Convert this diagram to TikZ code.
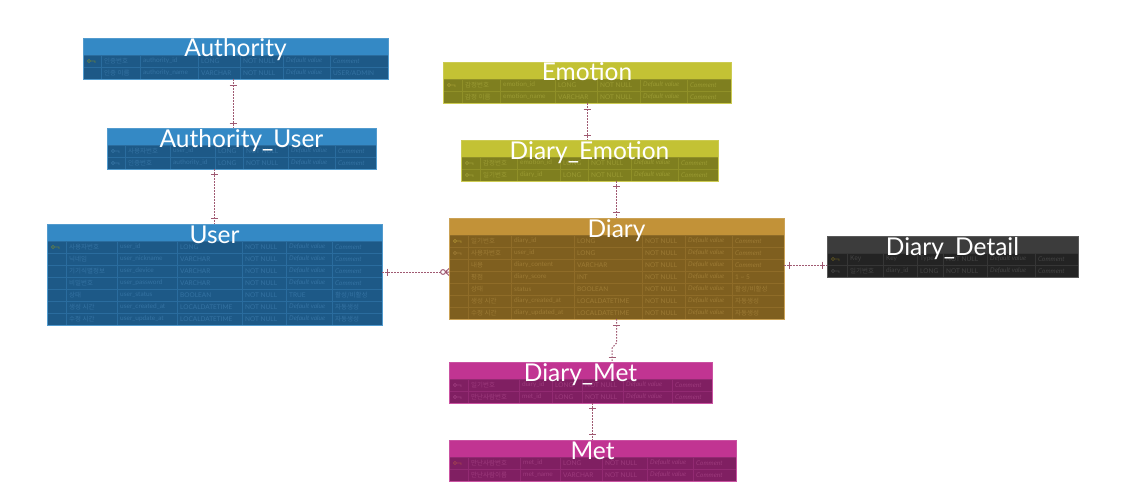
\documentclass[tikz,border=0pt]{standalone}
\usepackage{fontspec}
\setmainfont{Lato}
\newfontfamily\kr{Noto Sans CJK KR}
\usetikzlibrary{calc}
% themes
\definecolor{blueH}{HTML}{3489C5}\definecolor{blueB}{HTML}{1D5987}\definecolor{blueT}{HTML}{3472A2}\definecolor{blueL}{HTML}{2A6C9E}\definecolor{blueK}{HTML}{5C7A4A}
\definecolor{oliveH}{HTML}{C3C234}\definecolor{oliveB}{HTML}{7F7F1F}\definecolor{oliveT}{HTML}{9A9A33}\definecolor{oliveL}{HTML}{909028}\definecolor{oliveK}{HTML}{A09A30}
\definecolor{orangeH}{HTML}{C29238}\definecolor{orangeB}{HTML}{7F5F1F}\definecolor{orangeT}{HTML}{9C7A34}\definecolor{orangeL}{HTML}{8F6C28}\definecolor{orangeK}{HTML}{A88A30}
\definecolor{darkH}{HTML}{3C3C3C}\definecolor{darkB}{HTML}{232323}\definecolor{darkT}{HTML}{444444}\definecolor{darkL}{HTML}{363636}\definecolor{darkK}{HTML}{5A5020}
\definecolor{magH}{HTML}{C13492}\definecolor{magB}{HTML}{801F62}\definecolor{magT}{HTML}{9C3A7C}\definecolor{magL}{HTML}{922A72}\definecolor{magK}{HTML}{A04050}
\definecolor{connC}{HTML}{A05A72}
\newcommand\settheme[1]{\colorlet{tH}{#1H}\colorlet{tB}{#1B}\colorlet{tT}{#1T}\colorlet{tL}{#1L}\colorlet{tK}{#1K}}
\newcommand\dv{\textit{Default value}}
\newcommand\cm{\textit{Comment}}
\newcommand\ErdCols[8]{\def\ca{#1}\def\cb{#2}\def\cc{#3}\def\cd{#4}\def\ce{#5}\def\cf{#6}\def\cg{#7}\def\ch{#8}}
\newcommand\ErdTable[5]{% name, x1, y1, x2, nrows
  \pgfmathsetmacro\tbot{#3+17+12*#5}%
  \pgfmathsetmacro\tw{#4-#2}%
  \pgfmathsetmacro\thh{17+12*#5}%
  \fill[tB] (#2,#3) rectangle (#4,\tbot);
  \fill[tH] (#2,#3) rectangle (#4,#3+17);
  \node[tblnode, minimum width=\tw pt, minimum height=\thh pt, anchor=north west] (#1) at (#2,#3) {};
}
\newcommand\iconk[2]{\draw[tK, line width=0.8pt] (#1+6,#2+6) circle (1.6) (#1+7.6,#2+6) -- (#1+12,#2+6) -- (#1+12,#2+7.8);}
\newcommand\iconf[2]{\draw[tT, line width=0.8pt] (#1+6,#2+6) circle (1.6) (#1+7.6,#2+6) -- (#1+12,#2+6) -- (#1+12,#2+7.8);}
\newcommand\iconn[2]{}
\newcommand\ErdRow[8]{% ytop, icon, c2..c7
  \draw[tL, line width=0.7pt] (\ca,#1) rectangle (\ch,#1+12);
  \foreach \xx in {\cb,\cc,\cd,\ce,\cf,\cg} {\draw[tL, line width=0.7pt] (\xx,#1) -- (\xx,#1+12);}
  \csname icon#2\endcsname{\ca}{#1}
  \node[cell] at (\cb+3,#1+6) {\kr #3};
  \node[cell] at (\cc+3,#1+6) {#4};
  \node[cell] at (\cd+3,#1+6) {#5};
  \node[cell] at (\ce+3,#1+6) {#6};
  \node[cell] at (\cf+3,#1+6) {#7};
  \node[cell] at (\cg+3,#1+6) {#8};
}
\newcommand\ErdTitle[2]{%
  \draw[tH!85!white, line width=0.8pt] (#1.north west) rectangle (#1.south east);
  \node[ttl] at ($(#1.north)+(0,19)$) {#2};
}
\begin{document}
\begin{tikzpicture}[x=1pt, y=-1pt,
  tblnode/.style={inner sep=0pt, outer sep=0pt, draw=none},
  cell/.style={anchor=west, inner sep=0pt, text=tT, font=\fontsize{6.5}{7}\selectfont},
  ttl/.style={anchor=base, inner sep=0pt, text=white, font=\fontsize{24.5}{25}\selectfont},
  conn/.style={draw=connC, line width=1pt, dash pattern=on 1.5pt off 1.5pt},
  tick/.style={draw=connC, line width=1pt}]
\fill[white] (0,0) rectangle (1127,503);
\useasboundingbox (0,0) rectangle (1127,503);

% Authority
\settheme{blue}
\ErdTable{auth}{83}{38}{388}{2}
\ErdCols{83}{101}{140}{198}{240}{283}{330}{388}
\ErdRow{55}{k}{인증번호}{authority\_id}{LONG}{NOT NULL}{\dv}{\cm}
\ErdRow{67}{n}{인증 이름}{authority\_name}{VARCHAR}{NOT NULL}{\dv}{USER/ADMIN}
\ErdTitle{auth}{Authority}

% Authority_User
\ErdTable{auser}{107}{128}{376}{2}
\ErdCols{107}{125}{170}{215}{243}{288}{335}{376}
\ErdRow{145}{f}{사용자번호}{user\_id}{LONG}{NOT NULL}{\dv}{\cm}
\ErdRow{157}{f}{인증번호}{authority\_id}{LONG}{NOT NULL}{\dv}{\cm}
\ErdTitle{auser}{Authority\_User}

% User
\ErdTable{user}{47}{224}{382}{7}
\ErdCols{47}{66}{117}{177}{242}{286}{332}{382}
\ErdRow{241}{k}{사용자번호}{user\_id}{LONG}{NOT NULL}{\dv}{\cm}
\ErdRow{253}{n}{닉네임}{user\_nickname}{VARCHAR}{NOT NULL}{\dv}{\cm}
\ErdRow{265}{n}{기기식별정보}{user\_device}{VARCHAR}{NOT NULL}{\dv}{\cm}
\ErdRow{277}{n}{비밀번호}{user\_password}{VARCHAR}{NOT NULL}{\dv}{\cm}
\ErdRow{289}{n}{상태}{user\_status}{BOOLEAN}{NOT NULL}{TRUE}{\kr 활성/비활성}
\ErdRow{301}{n}{생성 시간}{user\_created\_at}{LOCALDATETIME}{NOT NULL}{\dv}{\kr 자동생성}
\ErdRow{313}{n}{수정 시간}{user\_update\_at}{LOCALDATETIME}{NOT NULL}{\dv}{\kr 자동생성}
\ErdTitle{user}{User}

% Emotion
\settheme{olive}
\ErdTable{emo}{443}{62}{731}{2}
\ErdCols{443}{462}{500}{555}{597}{640}{687}{731}
\ErdRow{79}{k}{감정번호}{emotion\_id}{LONG}{NOT NULL}{\dv}{\cm}
\ErdRow{91}{n}{감정 이름}{emotion\_name}{VARCHAR}{NOT NULL}{\dv}{\cm}
\ErdTitle{emo}{Emotion}

% Diary_Emotion
\ErdTable{demo}{461}{140}{718}{2}
\ErdCols{461}{480}{517}{560}{588}{631}{678}{718}
\ErdRow{157}{f}{감정번호}{emotion\_id}{LONG}{NOT NULL}{\dv}{\cm}
\ErdRow{169}{f}{일기번호}{diary\_id}{LONG}{NOT NULL}{\dv}{\cm}
\ErdTitle{demo}{Diary\_Emotion}

% Diary
\settheme{orange}
\ErdTable{diary}{449}{218}{784}{7}
\ErdCols{449}{468}{511}{574}{642}{685}{732}{784}
\ErdRow{235}{k}{일기번호}{diary\_id}{LONG}{NOT NULL}{\dv}{\cm}
\ErdRow{247}{f}{사용자번호}{user\_id}{LONG}{NOT NULL}{\dv}{\cm}
\ErdRow{259}{n}{내용}{diary\_content}{VARCHAR}{NOT NULL}{\dv}{\cm}
\ErdRow{271}{n}{평점}{diary\_score}{INT}{NOT NULL}{\dv}{1 \textasciitilde{} 5}
\ErdRow{283}{n}{상태}{status}{BOOLEAN}{NOT NULL}{\dv}{\kr 활성/비활성}
\ErdRow{295}{n}{생성 시간}{diary\_created\_at}{LOCALDATETIME}{NOT NULL}{\dv}{\kr 자동생성}
\ErdRow{307}{n}{수정 시간}{diary\_updated\_at}{LOCALDATETIME}{NOT NULL}{\dv}{\kr 자동생성}
\ErdTitle{diary}{Diary}

% Diary_Detail
\settheme{dark}
\ErdTable{ddet}{827}{236}{1078}{2}
\ErdCols{827}{847}{883}{917}{943}{987}{1035}{1078}
\ErdRow{253}{k}{Key}{Key}{Type}{NOT NULL}{\dv}{\cm}
\ErdRow{265}{f}{일기번호}{diary\_id}{LONG}{NOT NULL}{\dv}{\cm}
\ErdTitle{ddet}{Diary\_Detail}

% Diary_Met
\settheme{mag}
\ErdTable{dmet}{449}{362}{712}{2}
\ErdCols{449}{468}{519}{552}{582}{623}{672}{712}
\ErdRow{379}{f}{일기번호}{diary\_id}{LONG}{NOT NULL}{\dv}{\cm}
\ErdRow{391}{f}{만난사람번호}{met\_id}{LONG}{NOT NULL}{\dv}{\cm}
\ErdTitle{dmet}{Diary\_Met}

% Met
\ErdTable{met}{449}{440}{736}{2}
\ErdCols{449}{468}{520}{560}{602}{647}{693}{736}
\ErdRow{457}{k}{만난사람번호}{met\_id}{LONG}{NOT NULL}{\dv}{\cm}
\ErdRow{469}{n}{만난사람이름}{met\_name}{VARCHAR}{NOT NULL}{\dv}{\cm}
\ErdTitle{met}{Met}

% ---- connectors ----
% Authority -- Authority_User
\coordinate (a1) at ($(auth.south)+(-2.5,0)$);
\coordinate (a2) at (a1 |- auser.north);
\draw[conn] (a1) -- (a2);
\draw[tick] ($(a1)+(-3.5,6)$) -- ++(7,0);
\draw[tick] ($(a2)+(-3.5,-5)$) -- ++(7,0);
% Authority_User -- User
\coordinate (b2) at (user.north);
\coordinate (b1) at (b2 |- auser.south);
\draw[conn] (b1) -- (b2);
\draw[tick] ($(b1)+(-3.5,5)$) -- ++(7,0);
\draw[tick] ($(b2)+(-3.5,-6)$) -- ++(7,0);
% User -- Diary
\coordinate (c1) at (user.east |- 0,272);
\coordinate (c2) at (diary.west |- 0,272);
\draw[conn] (c1) -- ($(c2)+(-8.5,0)$);
\draw[tick] ($(c1)+(5,-3.5)$) -- ++(0,7);
\draw[tick] ($(c2)+(-6,0)$) circle (2.4);
\draw[tick] ($(c2)+(-3.6,0)$) -- ($(c2)+(0,-3.5)$) ($(c2)+(-3.6,0)$) -- (c2) ($(c2)+(-3.6,0)$) -- ($(c2)+(0,3.5)$);
% Emotion -- Diary_Emotion
\coordinate (d1) at (emo.south);
\coordinate (d2) at (d1 |- demo.north);
\draw[conn] (d1) -- (d2);
\draw[tick] ($(d1)+(-3.5,6)$) -- ++(7,0);
\draw[tick] ($(d2)+(-3.5,-5)$) -- ++(7,0);
% Diary_Emotion -- Diary
\coordinate (e2) at (diary.north);
\coordinate (e1) at (e2 |- demo.south);
\draw[conn] (e1) -- (e2);
\draw[tick] ($(e1)+(-3.5,5)$) -- ++(7,0);
\draw[tick] ($(e2)+(-3.5,-6)$) -- ++(7,0);
% Diary -- Diary_Detail
\coordinate (f1) at (diary.east |- 0,265);
\coordinate (f2) at (ddet.west |- 0,265);
\draw[conn] (f1) -- (f2);
\draw[tick] ($(f1)+(5,-3.5)$) -- ++(0,7);
\draw[tick] ($(f2)+(-5,-3.5)$) -- ++(0,7);
% Diary -- Diary_Met
\coordinate (g1) at (diary.south);
\coordinate (g2) at (dmet.north -| 612,0);
\draw[conn] (g1) -- ++(0,24) -- ($(g2)+(0,-14)$) -- (g2);
\draw[tick] ($(g1)+(-3.5,6)$) -- ++(7,0);
\draw[tick] ($(g2)+(-3.5,-5)$) -- ++(7,0);
% Diary_Met -- Met
\coordinate (h2) at (met.north);
\coordinate (h1) at (h2 |- dmet.south);
\draw[conn] (h1) -- (h2);
\draw[tick] ($(h1)+(-3.5,5)$) -- ++(7,0);
\draw[tick] ($(h2)+(-3.5,-6)$) -- ++(7,0);
\end{tikzpicture}
\end{document}
